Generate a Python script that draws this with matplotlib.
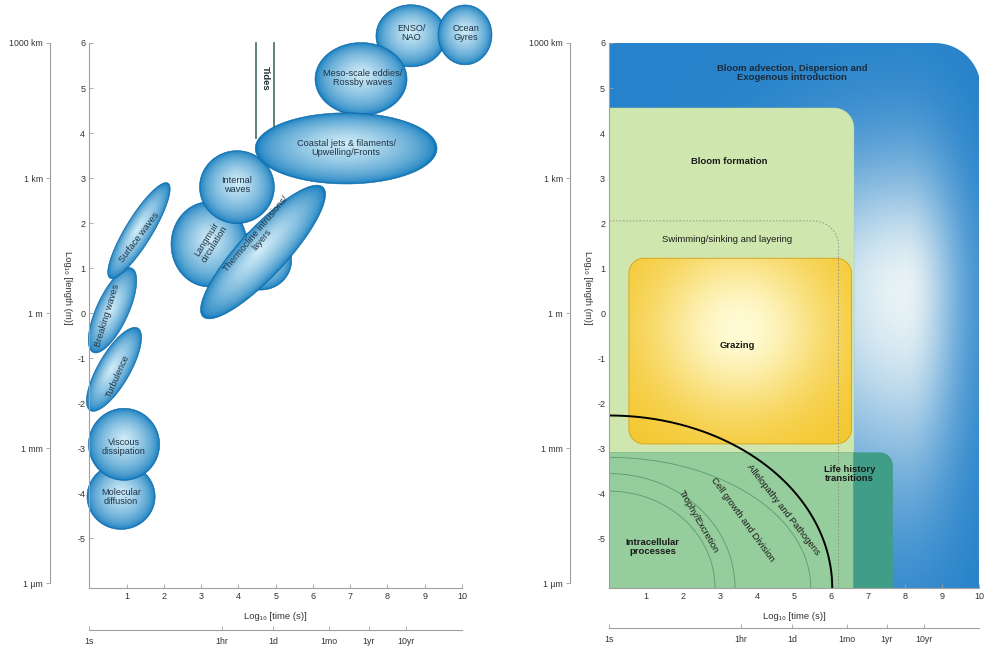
import numpy as np
import matplotlib
matplotlib.use("Agg")
import matplotlib.pyplot as plt
from matplotlib.patches import Polygon

plt.rcParams['font.family'] = ['Liberation Sans', 'DejaVu Sans']

# ---------------- axis scales ----------------
x_ticks = [1, 2, 3, 4, 5, 6, 7, 8, 9, 10]
y_ticks = [-5, -4, -3, -2, -1, 0, 1, 2, 3, 4, 5, 6]
length_labels = ["1000 km", "1 km", "1 m", "1 mm", "1 µm"]
length_log_m = [6, 3, 0, -3, -6]
time_labels = ["1s", "1hr", "1d", "1mo", "1yr", "10yr"]
time_seconds = [1, 3600, 86400, 2.63e6, 3.156e7, 3.156e8]
XLIM = (0, 10)
YLIM = (-6.1, 6.0)

# ---------------- physical processes (left) ----------------
# rounded processes: centre (x, y), width in log-time, height in log-length
round_names = ["ENSO", "Gyres", "Meso", "Blob", "Langmuir", "Internal", "Coastal",
               "Molecular", "Viscous"]
round_x = [8.63, 10.08, 7.29, 4.60, 3.21, 3.96, 6.89, 0.85, 0.93]
round_y = [6.16, 6.18, 5.20, 1.18, 1.53, 2.80, 3.66, -4.07, -2.91]
round_w = [1.88, 1.45, 2.47, 1.66, 2.04, 2.01, 4.88, 1.83, 1.91]
round_h = [1.38, 1.33, 1.62, 1.33, 1.89, 1.62, 1.58, 1.46, 1.60]

# elongated processes: ends of the long axis and thickness (log-time units)
tilt_names = ["Thermocline", "Turbulence", "Breaking", "Surface"]
tilt_x0 = [3.05, 0.02, 0.10, 0.55]
tilt_y0 = [-0.08, -2.16, -0.87, 0.78]
tilt_x1 = [6.27, 1.30, 1.14, 2.11]
tilt_y1 = [2.80, -0.33, 1.00, 2.89]
tilt_thick = [1.29, 0.86, 0.86, 0.72]

draw_order = ["ENSO", "Gyres", "Meso", "Blob", "Langmuir", "Internal", "Thermocline",
              "Coastal", "Turbulence", "Breaking", "Surface", "Molecular", "Viscous"]

phys_text = ["Molecular\ndiffusion", "Viscous\ndissipation", "Turbulence", "Breaking waves",
             "Surface waves", "Langmuir\ncirculation", "Thermocline intrusions/\nlayers",
             "Internal\nwaves", "Coastal jets & filaments/\nUpwelling/Fronts",
             "Meso-scale eddies/\nRossby waves", "ENSO/\nNAO", "Ocean\nGyres"]
phys_text_x = [0.85, 0.93, 0.75, 0.48, 1.33, 3.26, 4.55, 3.96, 6.89, 7.32, 8.63, 10.10]
phys_text_y = [-4.07, -2.98, -1.39, -0.04, 1.68, 1.58, 1.69, 2.84, 3.67, 5.22, 6.22, 6.22]
phys_text_rot = [0, 0, 66, 73, 53, 58, 50, 0, 0, 0, 0, 0]

tide_x = [4.47, 4.95]
tide_top = 6.0
tide_bottom = 3.9

# ---------------- biological processes (right) ----------------
blue_box = (0.0, 10.05, 6.0)            # x0, x1, top
bloom_box = (6.62, 4.56)                # right, top
swim_box = (6.20, 2.05)                 # right, top
grazing_box = (0.53, 6.55, -2.90, 1.22)  # x0, x1, y0, y1
cell_top = -3.09
life_box = (6.60, 7.67)                 # x0, x1

arc_a = [2.86, 3.40, 5.45]
arc_top = [-3.95, -3.56, -3.20]
allelo_a = 6.03
allelo_top = -2.27

bio_text = ["Bloom advection, Dispersion and\nExogenous introduction", "Bloom formation",
            "Swimming/sinking and layering", "Grazing", "Life history\ntransitions",
            "Intracellular\nprocesses", "Trophy/Excretion", "Cell growth and Division",
            "Allelopathy and Pathogens"]
bio_x = [4.95, 3.24, 3.19, 3.46, 6.49, 1.17, 2.40, 3.61, 4.70]
bio_y = [5.33, 3.36, 1.64, -0.71, -3.58, -5.20, -4.62, -4.58, -4.36]
bio_rot = [0, 0, 0, 0, 0, 0, -60, -54, -52]
bio_bold = [True, True, False, True, True, True, False, False, False]

# ---------------- figure ----------------
W, H = 988, 650
fig = plt.figure(figsize=(W / 100, H / 100), dpi=100)
fig.patch.set_facecolor("white")

AX_BOTTOM = (H - 588) / H
AX_HEIGHT = 545 / H
axL = fig.add_axes([89.4 / W, AX_BOTTOM, 372.6 / W, AX_HEIGHT])
axR = fig.add_axes([609.3 / W, AX_BOTTOM, 369.7 / W, AX_HEIGHT])

SPINE = "#a0a0a0"
TXT = "#333333"


def style_main(ax):
    ax.set_xlim(*XLIM)
    ax.set_ylim(*YLIM)
    for s in ("top", "right"):
        ax.spines[s].set_visible(False)
    for s in ("left", "bottom"):
        ax.spines[s].set_color(SPINE)
        ax.spines[s].set_linewidth(0.8)
        ax.spines[s].set_zorder(20)
    ax.set_xticks(x_ticks)
    ax.set_yticks(y_ticks)
    ax.set_xticklabels([str(v) for v in x_ticks])
    ax.set_yticklabels([str(v) for v in y_ticks])
    ax.tick_params(direction="in", length=3, width=0.6, colors=SPINE,
                   labelcolor=TXT, labelsize=6.5, pad=3)
    ax.set_facecolor("none")
    ax.text(0.5, -0.052, "Log₁₀ [time (s)]", transform=ax.transAxes, ha="center",
            va="center", fontsize=6.8, color=TXT)


style_main(axL)
style_main(axR)
axL.text(-0.06, 0.55, "Log₁₀ [length (m)]", transform=axL.transAxes, rotation=270,
         ha="center", va="center", fontsize=6.8, color=TXT)
axR.text(-0.058, 0.55, "Log₁₀ [length (m)]", transform=axR.transAxes, rotation=270,
         ha="center", va="center", fontsize=6.8, color=TXT)


def length_axis(xpx):
    a = fig.add_axes([xpx / W, AX_BOTTOM, 0.0005, AX_HEIGHT])
    a.set_ylim(*YLIM)
    a.set_xticks([])
    for s in ("top", "right", "bottom"):
        a.spines[s].set_visible(False)
    a.spines["left"].set_color(SPINE)
    a.spines["left"].set_linewidth(0.8)
    a.spines["left"].set_bounds(-6, 6)
    a.set_yticks(length_log_m)
    a.set_yticklabels(length_labels)
    a.tick_params(axis="y", direction="out", length=3, width=0.6, colors=SPINE,
                  labelcolor=TXT, labelsize=6.3, pad=2)
    a.set_facecolor("none")


def time_axis(x0px, wpx, ypx):
    a = fig.add_axes([x0px / W, (H - ypx) / H, wpx / W, 0.0005])
    a.set_xlim(*XLIM)
    a.set_yticks([])
    for s in ("top", "right", "left"):
        a.spines[s].set_visible(False)
    a.spines["bottom"].set_color(SPINE)
    a.spines["bottom"].set_linewidth(0.8)
    a.set_xticks(np.log10(time_seconds))
    a.set_xticklabels(time_labels)
    a.tick_params(axis="x", direction="in", length=3, width=0.6, colors=SPINE,
                  labelcolor=TXT, labelsize=6.3, pad=5)
    a.set_facecolor("none")


length_axis(50)
length_axis(570)
time_axis(89.4, 372.6, 630)
time_axis(609.3, 369.7, 628)


# ---------------- helpers ----------------
def px_per_unit(ax):
    (x0, y0), (x1, y1) = ax.transData.transform([(0, 0), (1, 1)])
    return x1 - x0, y1 - y0


EDGE = np.array([20, 124, 190]) / 255
CENTRE = np.array([212, 238, 248]) / 255
RIM = np.array([16, 98, 158]) / 255


def shaded_ellipse(ax, c_px, a, b, ang, z):
    inv = ax.transData.inverted()
    t = np.linspace(0, 2 * np.pi, 120)
    u = np.array([np.cos(ang), np.sin(ang)])
    v = np.array([-np.sin(ang), np.cos(ang)])
    for s in np.linspace(1.0, 0.03, 30):
        g = (1 - s) ** 0.6
        col = EDGE + (CENTRE - EDGE) * g
        c = np.asarray(c_px) + v * 0.15 * b * (1 - s)
        pts = c + s * (a * np.cos(t)[:, None] * u + b * np.sin(t)[:, None] * v)
        ax.add_patch(Polygon(inv.transform(pts), closed=True, fc=col, ec="none",
                             zorder=z, clip_on=False))
    pts = np.asarray(c_px) + (a * np.cos(t)[:, None] * u + b * np.sin(t)[:, None] * v)
    ax.add_patch(Polygon(inv.transform(pts), closed=True, fc="none", ec=RIM, lw=0.4,
                         zorder=z, clip_on=False))


def rounded_box(ax, x0, x1, y0, y1, r_px, corners):
    sx, sy = px_per_unit(ax)
    rx, ry = r_px / sx, r_px / sy
    spec = {"br": ((x1 - rx, y0 + ry), -90, 0, (x1, y0)),
            "tr": ((x1 - rx, y1 - ry), 0, 90, (x1, y1)),
            "tl": ((x0 + rx, y1 - ry), 90, 180, (x0, y1)),
            "bl": ((x0 + rx, y0 + ry), 180, 270, (x0, y0))}
    pts = []
    for k in ("br", "tr", "tl", "bl"):
        (cx, cy), a0, a1, corner = spec[k]
        if k in corners:
            th = np.radians(np.linspace(a0, a1, 24))
            pts += list(zip(cx + rx * np.cos(th), cy + ry * np.sin(th)))
        else:
            pts.append(corner)
    return np.array(pts)


# ---------------- left panel: physical processes ----------------
sxL, syL = px_per_unit(axL)
for z, name in enumerate(draw_order):
    zz = 5 + z
    if name in round_names:
        i = round_names.index(name)
        c = axL.transData.transform((round_x[i], round_y[i]))
        shaded_ellipse(axL, c, round_w[i] / 2 * sxL, round_h[i] / 2 * syL, 0.0, zz)
    else:
        i = tilt_names.index(name)
        p0 = axL.transData.transform((tilt_x0[i], tilt_y0[i]))
        p1 = axL.transData.transform((tilt_x1[i], tilt_y1[i]))
        d = p1 - p0
        shaded_ellipse(axL, (p0 + p1) / 2, np.hypot(*d) / 2, tilt_thick[i] / 2 * sxL,
                       np.arctan2(d[1], d[0]), zz)

for tx in tide_x:
    axL.plot([tx, tx], [tide_bottom, tide_top], color="#3d6f62", lw=1.2, zorder=10.5,
             clip_on=False)
axL.text(np.mean(tide_x), 5.22, "Tides", rotation=270, ha="center", va="center",
         fontsize=6.8, fontweight="bold", color="#1f2a30", zorder=40)

for lab, x, y, r in zip(phys_text, phys_text_x, phys_text_y, phys_text_rot):
    axL.text(x, y, lab, rotation=r, rotation_mode="anchor", ha="center", va="center",
             fontsize=6.6, color="#1f3446", linespacing=1.0, zorder=40, clip_on=False)

# ---------------- right panel: biological processes ----------------
ax = axR
# blue background (advection / dispersion), brightest just right of the bloom area
X, Y = np.meshgrid(np.linspace(0, 10.1, 400), np.linspace(YLIM[0], YLIM[1], 400))
hx, hy = 8.0, 0.5
sxg = np.where(X < hx, 3.6, 1.5)
syg = np.where(Y > hy, 3.0, 4.4)
wb = 0.96 * np.exp(-((X - hx) / sxg) ** 2 - ((Y - hy) / syg) ** 2)
dark = np.array([38, 130, 202]) / 255
light = np.array([240, 247, 247]) / 255
img = dark * (1 - wb)[..., None] + light * wb[..., None]
blue_pts = rounded_box(ax, blue_box[0] - 3, blue_box[1], YLIM[0] - 2, blue_box[2], 46, ("tr",))
blue_patch = Polygon(blue_pts, closed=True, fc="none", ec="none", transform=ax.transData)
ax.add_patch(blue_patch)
im = ax.imshow(img, extent=[0, 10.1, YLIM[0], YLIM[1]], origin="lower", aspect="auto",
               zorder=1, interpolation="bilinear")
im.set_clip_path(blue_patch)

# bloom formation (pale green)
bloom_pts = rounded_box(ax, -1, bloom_box[0], YLIM[0] - 2, bloom_box[1], 20, ("tr",))
ax.add_patch(Polygon(bloom_pts, closed=True, fc=(0.81, 0.905, 0.685), ec=(0.62, 0.72, 0.55),
                     lw=0.5, ls=":", zorder=2))

# grazing (yellow, shaded)
gx0, gx1, gy0, gy1 = grazing_box
graze_pts = rounded_box(ax, gx0, gx1, gy0, gy1, 15, ("br", "tr", "tl", "bl"))
graze_patch = Polygon(graze_pts, closed=True, fc="none", ec=(0.85, 0.65, 0.12), lw=0.7,
                      zorder=4.5)
ax.add_patch(graze_patch)
GX, GY = np.meshgrid(np.linspace(gx0, gx1, 300), np.linspace(gy0, gy1, 300))
wg = np.exp(-((GX - 3.5) / 2.4) ** 2 - ((GY + 0.35) / 1.9) ** 2)
yel_edge = np.array([244, 198, 42]) / 255
yel_centre = np.array([255, 251, 212]) / 255
gimg = yel_edge * (1 - wg)[..., None] + yel_centre * wg[..., None]
gim = ax.imshow(gimg, extent=[gx0, gx1, gy0, gy1], origin="lower", aspect="auto", zorder=4,
                interpolation="bilinear")
gim.set_clip_path(graze_patch)

# swimming / sinking (dashed outline)
swim_pts = rounded_box(ax, -1, swim_box[0], YLIM[0] - 2, swim_box[1], 25, ("tr",))
ax.add_patch(Polygon(swim_pts, closed=True, fc="none", ec="#8a8f86", lw=0.6,
                     ls=(0, (2, 2)), zorder=9))

# intracellular / life history blocks
cell_pts = rounded_box(ax, -1, life_box[0], YLIM[0] - 2, cell_top, 0, ())
ax.add_patch(Polygon(cell_pts, closed=True, fc=(0.585, 0.805, 0.615), ec=(0.5, 0.7, 0.55),
                     lw=0.5, zorder=5))
life_pts = rounded_box(ax, life_box[0], life_box[1], YLIM[0] - 2, cell_top, 13, ("tr",))
ax.add_patch(Polygon(life_pts, closed=True, fc=(0.25, 0.615, 0.53), ec="none", zorder=5))

# process arcs around the single-cell corner
t = np.linspace(0, np.pi / 2, 200)
for a, top in zip(arc_a, arc_top):
    b = top - YLIM[0]
    ax.plot(a * np.cos(t), YLIM[0] + b * np.sin(t), color="#5e9a6e", lw=0.6, zorder=6)
ax.plot(allelo_a * np.cos(t), YLIM[0] + (allelo_top - YLIM[0]) * np.sin(t), color="black",
        lw=1.4, zorder=7)

for lab, x, y, r, bold in zip(bio_text, bio_x, bio_y, bio_rot, bio_bold):
    ax.text(x, y, lab, rotation=r, rotation_mode="anchor", ha="center", va="center",
            fontsize=6.8, fontweight="bold" if bold else "normal",
            color="#1b2a3a" if x > 4.9 and y > 5 else "#1a1a1a", linespacing=1.0, zorder=30)

fig.savefig("out.png", dpi=100, facecolor="white")
